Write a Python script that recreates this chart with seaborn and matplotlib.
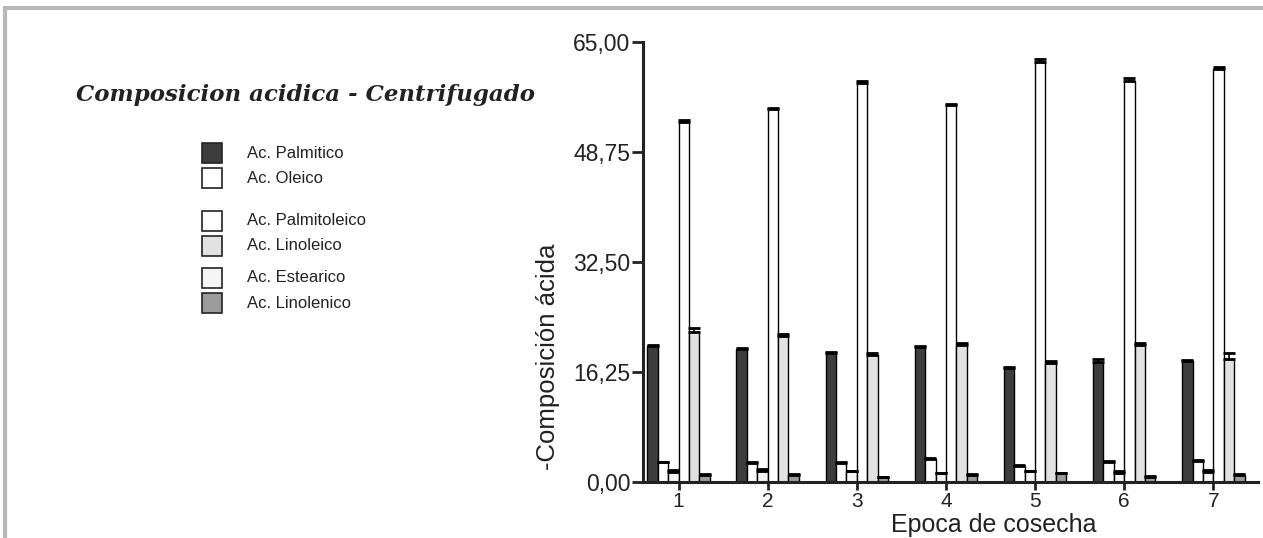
import numpy as np
import pandas as pd
import matplotlib
matplotlib.use("Agg")
import matplotlib.pyplot as plt
from matplotlib.patches import Rectangle
import seaborn as sns

epocas = ["1", "2", "3", "4", "5", "6", "7"]
acidos = ["Ac. Palmitico", "Ac. Palmitoleico", "Ac. Estearico",
          "Ac. Oleico", "Ac. Linoleico", "Ac. Linolenico"]

palmitico    = [20.1, 19.6, 19.1, 20.0, 16.8, 17.8, 17.9]
palmitoleico = [2.9, 2.8, 2.8, 3.4, 2.4, 3.0, 3.1]
estearico    = [1.5, 1.6, 1.6, 1.3, 1.6, 1.3, 1.5]
oleico       = [53.2, 55.1, 59.0, 55.7, 62.0, 59.3, 61.0]
linoleico    = [22.2, 21.5, 18.7, 20.3, 17.6, 20.2, 18.2]
linolenico   = [1.1, 1.1, 0.7, 1.1, 1.3, 0.8, 1.1]

err_palmitico    = [0.15, 0.15, 0.15, 0.15, 0.15, 0.4, 0.15]
err_palmitoleico = [0.1, 0.1, 0.1, 0.1, 0.1, 0.1, 0.1]
err_estearico    = [0.3, 0.3, 0.1, 0.1, 0.1, 0.3, 0.3]
err_oleico       = [0.3, 0.2, 0.3, 0.2, 0.5, 0.4, 0.3]
err_linoleico    = [0.5, 0.4, 0.3, 0.3, 0.3, 0.4, 0.9]
err_linolenico   = [0.05, 0.05, 0.05, 0.05, 0.05, 0.05, 0.05]

colores = ["#3d3d3d", "#ffffff", "#f5f5f5", "#ffffff", "#e2e2e2", "#9c9c9c"]
yticks = [0, 16.25, 32.5, 48.75, 65]
ytick_labels = ["0,00", "16,25", "32,50", "48,75", "65,00"]

valores = [palmitico, palmitoleico, estearico, oleico, linoleico, linolenico]
errores = [err_palmitico, err_palmitoleico, err_estearico, err_oleico,
           err_linoleico, err_linolenico]

rows = []
for a, vals in zip(acidos, valores):
    for e, v in zip(epocas, vals):
        rows.append({"epoca": e, "acido": a, "valor": v})
df = pd.DataFrame(rows)

sns.set_style("ticks")
plt.rcParams['font.family'] = ['Liberation Sans', 'DejaVu Sans']

fig = plt.figure(figsize=(12.63, 5.38), dpi=100)
ax = fig.add_axes([0.509, 0.104, 0.487, 0.818])

sns.barplot(data=df, x="epoca", y="valor", hue="acido", hue_order=acidos,
            order=epocas, palette=colores, width=0.7, errorbar=None,
            edgecolor="black", linewidth=1.0, saturation=1, ax=ax, legend=False)

# upper error bars from bar positions
for cont, errs in zip(ax.containers, errores):
    xs = [p.get_x() + p.get_width() / 2 for p in cont.patches]
    hs = [p.get_height() for p in cont.patches]
    ax.errorbar(xs, hs, yerr=[np.zeros(len(errs)), errs], fmt="none",
                ecolor="black", elinewidth=1.2, capsize=4, capthick=2)

ax.set_ylim(0, 65)
ax.set_xlim(-0.4, 6.5)
ax.set_yticks(yticks)
ax.set_yticklabels(ytick_labels)
ax.tick_params(axis="both", width=2, colors="#222222")
ax.tick_params(axis="y", labelsize=16.5, length=8, pad=1)
ax.tick_params(axis="x", labelsize=15, length=6, pad=1.5)
ax.set_ylabel("-Composición ácida", fontsize=18.5, color="#222222")
ax.yaxis.set_label_coords(-0.135, 0.284)
ax.set_xlabel("Epoca de cosecha", fontsize=18, color="#222222")
ax.xaxis.set_label_coords(0.57, -0.07)
for s in ["top", "right"]:
    ax.spines[s].set_visible(False)
for s in ["left", "bottom"]:
    ax.spines[s].set_linewidth(2.2)
    ax.spines[s].set_color("#222222")

# left side title and legend
fig.text(0.06, 0.812, "Composicion acidica - Centrifugado", fontsize=16.5,
         family="DejaVu Serif", style="italic", fontweight="bold", color="#222222")

leg_order = ["Ac. Palmitico", "Ac. Oleico", "Ac. Palmitoleico",
             "Ac. Linoleico", "Ac. Estearico", "Ac. Linolenico"]
leg_y = [153, 178, 221, 246, 278, 303]
for name, yy in zip(leg_order, leg_y):
    c = colores[acidos.index(name)]
    fig.patches.append(Rectangle((202 / 1263, 1 - (yy + 10) / 538), 20 / 1263, 20 / 538,
                                 transform=fig.transFigure, facecolor=c,
                                 edgecolor="#222222", linewidth=1.2))
    fig.text(247 / 1263, 1 - yy / 538, name, fontsize=12, va="center",
             color="#222222")

# scan frame
fig.patches.append(Rectangle((0.004, -0.01), 1.2, 0.995, transform=fig.transFigure,
                             facecolor="none", edgecolor="#b8b8b8", linewidth=3))

fig.savefig("out.png", dpi=100)
